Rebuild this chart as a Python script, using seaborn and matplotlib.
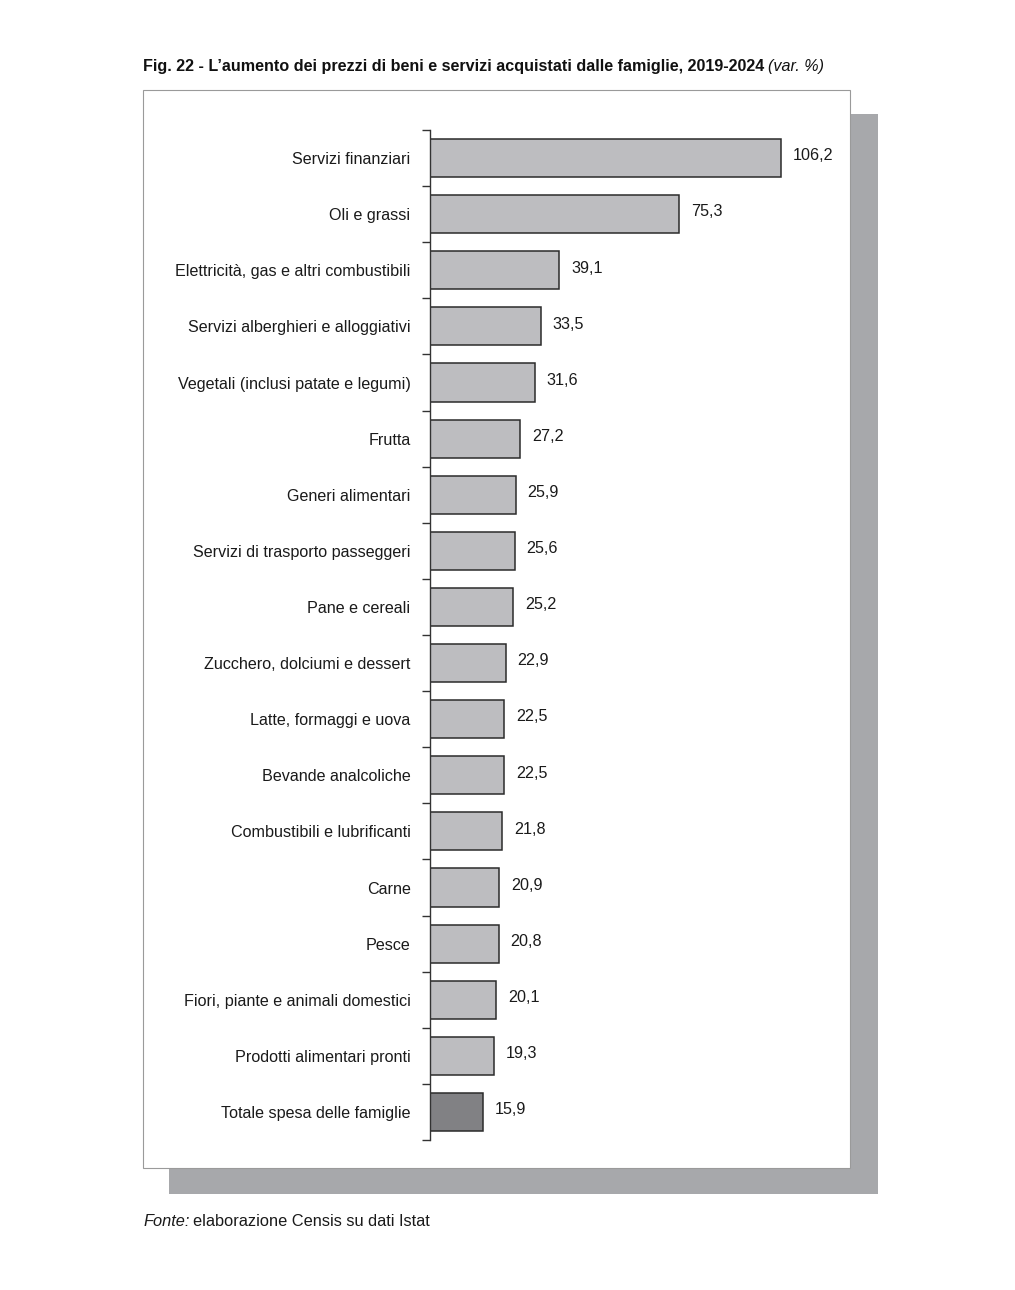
import matplotlib
matplotlib.use("Agg")
import matplotlib.pyplot as plt
from matplotlib.patches import Rectangle
import seaborn as sns
import pandas as pd

categories = [
    "Servizi finanziari", "Oli e grassi", "Elettricità, gas e altri combustibili",
    "Servizi alberghieri e alloggiativi", "Vegetali (inclusi patate e legumi)",
    "Frutta", "Generi alimentari", "Servizi di trasporto passeggeri",
    "Pane e cereali", "Zucchero, dolciumi e dessert", "Latte, formaggi e uova",
    "Bevande analcoliche", "Combustibili e lubrificanti", "Carne", "Pesce",
    "Fiori, piante e animali domestici", "Prodotti alimentari pronti",
    "Totale spesa delle famiglie",
]
values = [106.2, 75.3, 39.1, 33.5, 31.6, 27.2, 25.9, 25.6, 25.2, 22.9, 22.5,
          22.5, 21.8, 20.9, 20.8, 20.1, 19.3, 15.9]
groups = ["voce"] * 17 + ["totale"]

df = pd.DataFrame({"cat": categories, "val": values, "grp": groups})

sns.set_theme(style="white")
plt.rcParams['font.family'] = ['Liberation Sans', 'DejaVu Sans']

W, H = 1015, 1290
fig = plt.figure(figsize=(W / 100, H / 100), dpi=100)
fig.patch.set_facecolor("white")

def fx(px):
    return px / W

def fy(py):
    return 1 - py / H

# shadow box and white panel
fig.patches.append(Rectangle((fx(169), fy(1194)), fx(878) - fx(169), fy(114) - fy(1194),
                             transform=fig.transFigure, facecolor="#a7a8ab",
                             edgecolor="none", zorder=0))
fig.patches.append(Rectangle((fx(143), fy(1168)), fx(850) - fx(143), fy(90) - fy(1168),
                             transform=fig.transFigure, facecolor="white",
                             edgecolor="#9a9a9a", linewidth=0.8, zorder=1))

ax = fig.add_axes([fx(430), fy(1140), fx(850) - fx(430), fy(130) - fy(1140)])
ax.set_facecolor("none")
ax.set_zorder(2)

sns.barplot(data=df, y="cat", x="val", hue="grp", orient="h",
            palette={"voce": "#bcbdc0", "totale": "#808184"},
            dodge=False, width=0.68, edgecolor="#2b2b2b", linewidth=1.1,
            legend=False, ax=ax)

ax.set_xlim(0, 127)
ax.set_ylim(len(categories) - 0.5, -0.5)
ax.set_xlabel("")
ax.set_ylabel("")
ax.set_xticks([])
for s in ["top", "right", "bottom"]:
    ax.spines[s].set_visible(False)
ax.spines["left"].set_color("#333333")
ax.spines["left"].set_linewidth(1.0)

ax.set_yticks([i + 0.5 for i in range(-1, len(categories))], minor=True)
ax.set_yticks(range(len(categories)))
ax.set_yticklabels(categories, fontsize=11.6, color="#1a1a1a")
ax.tick_params(axis="y", which="major", length=0, pad=14)
ax.tick_params(axis="y", which="minor", length=6, width=1.0, color="#333333", left=True)

for i, v in enumerate(values):
    ax.text(v + 3.6, i - 0.04, f"{v:.1f}".replace(".", ","), va="center", ha="left",
            fontsize=11.6, color="#1a1a1a")

t1 = fig.text(fx(143), fy(67), "Fig. 22 - L’aumento dei prezzi di beni e servizi acquistati dalle famiglie, 2019-2024",
              fontsize=11.6, fontweight="bold", color="#111111", va="center", ha="left")
fig.canvas.draw()
bb = t1.get_window_extent()
fig.text(bb.x1 / W + fx(4), fy(67), "(var. %)", fontsize=11.6, fontstyle="italic",
         color="#111111", va="center", ha="left")

t2 = fig.text(fx(143), fy(1222), "Fonte:", fontsize=11.8, fontstyle="italic",
              color="#1a1a1a", va="center", ha="left")
fig.canvas.draw()
bb2 = t2.get_window_extent()
fig.text(bb2.x1 / W + fx(4), fy(1222), "elaborazione Censis su dati Istat", fontsize=11.8,
         color="#1a1a1a", va="center", ha="left")

fig.savefig("out.png", dpi=100)
